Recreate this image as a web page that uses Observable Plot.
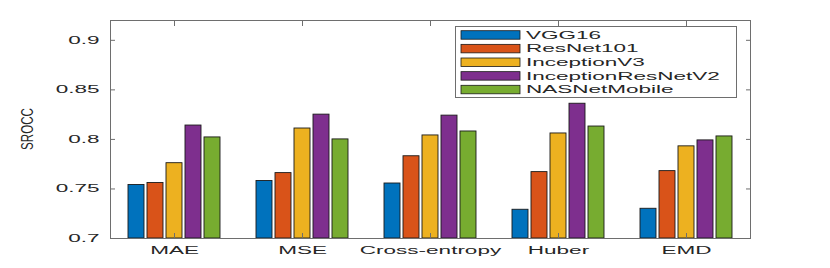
<!DOCTYPE html>
<html><head><meta charset="utf-8">
<script src="https://cdn.jsdelivr.net/npm/d3@7"></script>
<script src="https://cdn.jsdelivr.net/npm/@observablehq/plot@0.6"></script>
<style>body{margin:0;background:#fff} svg{display:block}</style>
</head><body><div id="chart"></div>
<script>
const losses = ["MAE", "MSE", "Cross-entropy", "Huber", "EMD"];
const models = ["VGG16", "ResNet101", "InceptionV3", "InceptionResNetV2", "NASNetMobile"];
const vgg16 = [0.754, 0.758, 0.7555, 0.729, 0.730];
const resnet101 = [0.756, 0.766, 0.783, 0.767, 0.768];
const inceptionV3 = [0.776, 0.811, 0.804, 0.806, 0.793];
const inceptionResNetV2 = [0.814, 0.825, 0.824, 0.836, 0.799];
const nasNetMobile = [0.802, 0.800, 0.808, 0.813, 0.803];
const yTicks = [0.7, 0.75, 0.8, 0.85, 0.9];
const yDomain = [0.7, 0.92];
const colors = ["#0072BD", "#D95319", "#EDB120", "#7E2F8E", "#77AC30"];
const yLabel = "SROCC";

const seriesValues = [vgg16, resnet101, inceptionV3, inceptionResNetV2, nasNetMobile];
const data = losses.flatMap((loss, i) => models.map((m, j) => ({loss, model: m, value: seriesValues[j][i]})));

const FONT = "'Liberation Sans', Arial, Helvetica, sans-serif";
const axisColor = "#6e6e6e";

const plot = Plot.plot({
  width: 830, height: 268,
  marginLeft: 108, marginRight: 79, marginTop: 20, marginBottom: 30,
  style: {fontFamily: FONT, fontSize: "10px", color: "#262626", background: "#fff"},
  fx: {domain: losses, padding: 0, label: null},
  x: {domain: models, paddingInner: 0.16, paddingOuter: 0.86, axis: null},
  y: {domain: yDomain},
  color: {domain: models, range: colors},
  marks: [
    Plot.barY(data, {fx: "loss", x: "model", y1: () => yDomain[0], y2: "value", fill: "model", stroke: "#1a1a1a", strokeWidth: 0.9}),
    Plot.frame({anchor: "top", stroke: axisColor}),
    Plot.frame({anchor: "bottom", stroke: axisColor}),
    Plot.frame({anchor: "left", facetAnchor: "left", stroke: axisColor}),
    Plot.frame({anchor: "right", facetAnchor: "right", stroke: axisColor}),
    Plot.axisY(yTicks, {anchor: "left", tickSize: -5, tickPadding: 16, stroke: axisColor, label: null, tickFormat: d => String(d)}),
    Plot.axisY(yTicks, {anchor: "right", tickSize: -5, stroke: axisColor, tickFormat: () => "", label: null}),
    Plot.axisFx({anchor: "bottom", tickSize: -5, tickPadding: 13, stroke: axisColor, label: null}),
    Plot.axisFx({anchor: "top", tickSize: -5, stroke: axisColor, tickFormat: () => "", label: null})
  ]
});

document.getElementById("chart").append(plot);
const svg = d3.select(plot);
const K = 2.25;
function stretch(sel, k) {
  sel.each(function() {
    const w = this.getComputedTextLength();
    if (w > 0) {
      this.setAttribute("textLength", w * k);
      this.setAttribute("lengthAdjust", "spacingAndGlyphs");
    }
  });
}
stretch(svg.selectAll("g[aria-label='y-axis tick label'] text, g[aria-label='fx-axis tick label'] text"), K);

// y-axis title (narrow, tall glyphs as in the reference)
const yt = svg.append("text")
  .attr("text-anchor", "middle")
  .style("font-family", FONT).style("font-size", "16px").style("fill", "#262626")
  .text(yLabel);
const natural = yt.node().getComputedTextLength();
yt.attr("transform", `translate(33,129) rotate(-90) scale(${42 / natural},1)`);

// legend
const color = plot.scale("color");
const lg = svg.append("g").style("font-family", FONT).style("font-size", "10px").attr("fill", "#262626").attr("text-anchor", "start");
lg.append("rect").attr("x", 455.5).attr("y", 26.5).attr("width", 281).attr("height", 71)
  .attr("fill", "white").attr("stroke", axisColor);
models.forEach((m, i) => {
  const y = 30.7 + i * 13.65;
  lg.append("rect").attr("x", 461).attr("y", y).attr("width", 59).attr("height", 8.5)
    .attr("fill", color.apply(m)).attr("stroke", "#1a1a1a").attr("stroke-width", 0.8);
  lg.append("text").attr("x", 526).attr("y", y + 4.25).attr("dy", "0.36em").text(m);
});
stretch(lg.selectAll("text"), K);
</script>
</body></html>
